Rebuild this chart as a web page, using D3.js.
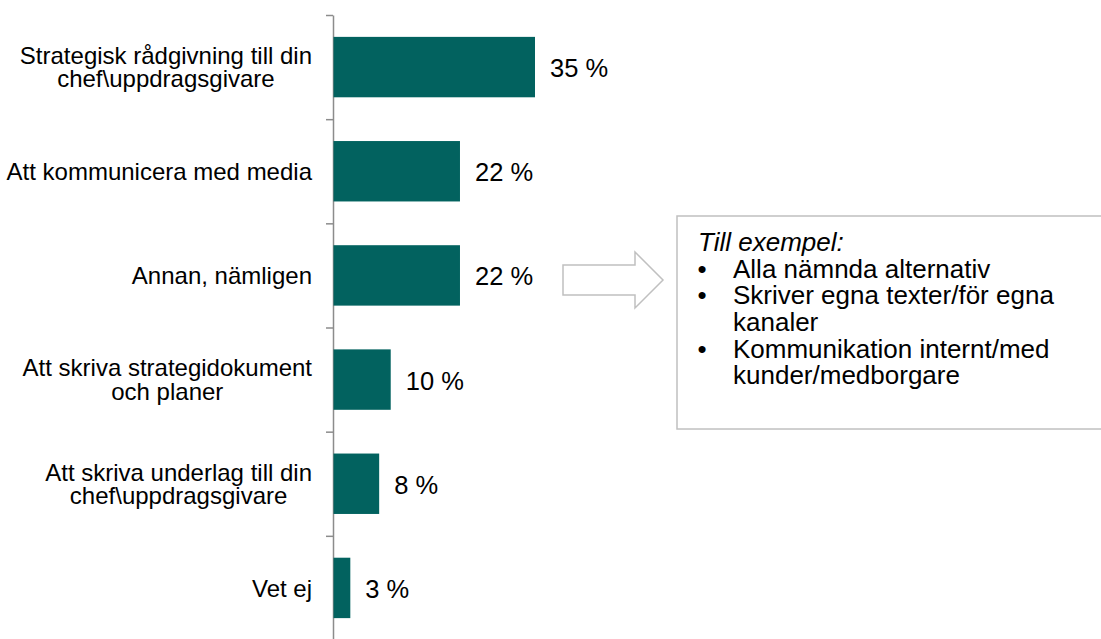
<!DOCTYPE html>
<html>
<head>
<meta charset="utf-8">
<script src="https://cdn.jsdelivr.net/npm/d3@7/dist/d3.min.js"></script>
<style>
  html, body { margin: 0; padding: 0; background: #fff; }
  svg { display: block; font-family: "Liberation Sans", Arial, Helvetica, sans-serif; }
</style>
</head>
<body>
<svg id="chart" width="1101" height="639"></svg>
<script>
// kategorier (radbrytning med \n som i originalet)
var categories = [
  "Strategisk rådgivning till din\nchef\\uppdragsgivare",
  "Att kommunicera med media",
  "Annan, nämligen",
  "Att skriva strategidokument\noch planer",
  "Att skriva underlag till din\nchef\\uppdragsgivare",
  "Vet ej"
];
var values = [35, 22, 22, 10, 8, 3];

var noteTitle = "Till exempel:";
var noteItems = [
  ["Alla nämnda alternativ"],
  ["Skriver egna texter/för egna", "kanaler"],
  ["Kommunikation internt/med", "kunder/medborgare"]
];

var barColor = "#02625f";
var axisColor = "#8c8c8c";
var boxColor = "#c0c0c0";

var svg = d3.select("#chart");

var axisX = 333;
var x = d3.scaleLinear().domain([0, 35]).range([axisX, 535]);

var y = d3.scaleBand()
  .domain(categories)
  .range([15, 640])
  .paddingInner(0.42)
  .paddingOuter(0.21);

// axel med streck mellan kategorierna
var yIdx = d3.scaleLinear().domain([0, categories.length]).range([15, 640]);
var axis = svg.append("g")
  .attr("transform", "translate(" + axisX + ",0)")
  .call(d3.axisLeft(yIdx)
    .tickValues(d3.range(categories.length + 1))
    .tickSize(7)
    .tickSizeOuter(0)
    .tickFormat(""));
axis.selectAll("path, line").attr("stroke", axisColor).attr("stroke-width", 1.5);

// staplar
svg.append("g").selectAll("rect")
  .data(values)
  .join("rect")
  .attr("x", axisX + 0.5)
  .attr("y", function (d, i) { return y(categories[i]); })
  .attr("width", function (d) { return x(d) - axisX - 0.5; })
  .attr("height", y.bandwidth())
  .attr("fill", barColor);

// värdeetiketter
svg.append("g").selectAll("text")
  .data(values)
  .join("text")
  .attr("x", function (d) { return x(d) + 15; })
  .attr("y", function (d, i) { return y(categories[i]) + y.bandwidth() / 2 + 10; })
  .attr("font-size", 25.5)
  .attr("fill", "#000")
  .text(function (d) { return d + " %"; });

// kategorietiketter, högerställt block med centrerade rader
var labelRight = 312;
categories.forEach(function (cat, i) {
  var lines = cat.split("\n");
  var c = y(cat) + y.bandwidth() / 2;
  var g = svg.append("g");
  var texts = lines.map(function (line, j) {
    var base = lines.length === 1 ? c + 8.6 : c - 3.2 + j * 23.5;
    return g.append("text")
      .attr("y", base)
      .attr("font-size", 24)
      .attr("fill", "#000")
      .text(line);
  });
  var w = d3.max(texts, function (t) { return t.node().getComputedTextLength(); });
  texts.forEach(function (t) {
    t.attr("x", labelRight - w / 2).attr("text-anchor", "middle");
  });
});

// pil
var arrow = d3.path();
arrow.moveTo(563, 265);
arrow.lineTo(635, 265);
arrow.lineTo(635, 252);
arrow.lineTo(663, 280);
arrow.lineTo(635, 308);
arrow.lineTo(635, 295);
arrow.lineTo(563, 295);
arrow.closePath();
svg.append("path")
  .attr("d", arrow.toString())
  .attr("fill", "#fff")
  .attr("stroke", boxColor)
  .attr("stroke-width", 1.5);

// textruta
svg.append("rect")
  .attr("x", 677)
  .attr("y", 216)
  .attr("width", 440)
  .attr("height", 213)
  .attr("fill", "#fff")
  .attr("stroke", boxColor)
  .attr("stroke-width", 1.5);

var note = svg.append("g").attr("font-size", 26).attr("fill", "#000");
note.append("text")
  .attr("x", 698)
  .attr("y", 251)
  .attr("font-style", "italic")
  .text(noteTitle);

var lineY = 277.7;
var step = 26.6;
noteItems.forEach(function (item) {
  note.append("text")
    .attr("x", 702)
    .attr("y", lineY)
    .attr("text-anchor", "middle")
    .text("\u2022");
  item.forEach(function (line) {
    note.append("text")
      .attr("x", 733)
      .attr("y", lineY)
      .text(line);
    lineY += step;
  });
});
</script>
</body>
</html>
